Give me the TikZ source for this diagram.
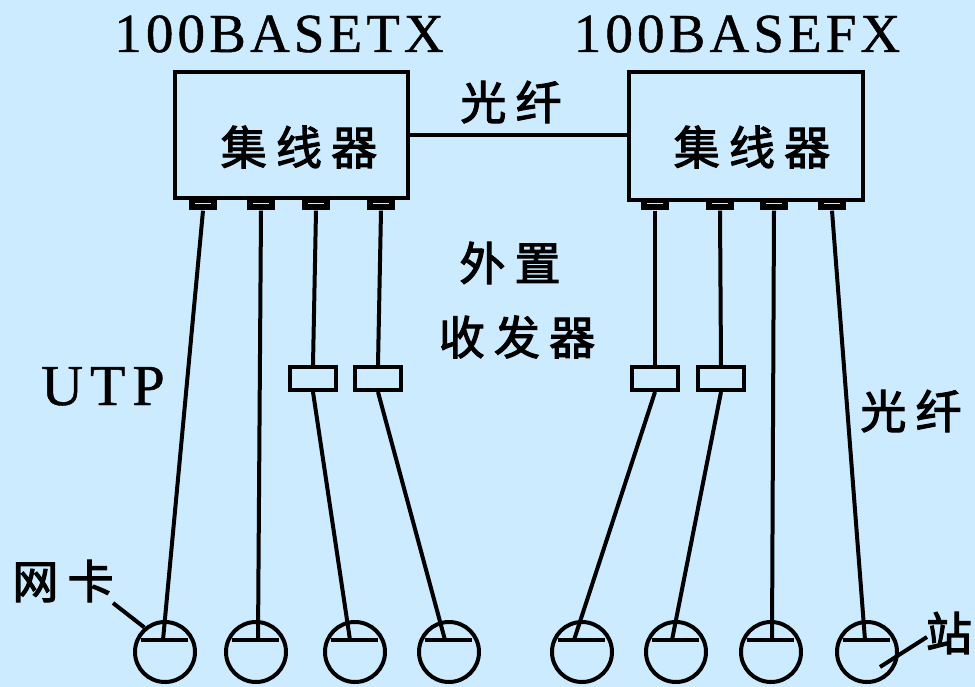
\documentclass[tikz,border=0pt]{standalone}
\usepackage{fontspec}
\setmainfont{Liberation Serif}
\newfontfamily\cjk{Noto Sans CJK SC}[LetterSpace=20,FakeBold=2.5]
\definecolor{bg}{RGB}{204,235,255}
\begin{document}
\begin{tikzpicture}[x=1pt,y=-1pt,
  hub/.style={draw, line width=4pt, inner sep=0pt},
  xcvr/.style={draw, line width=4pt, inner sep=0pt, minimum width=46pt, minimum height=23pt},
  stub/.style={fill=black, inner sep=0pt, minimum width=28pt, minimum height=11pt},
  station/.style={circle, draw, line width=4pt, minimum size=60pt, inner sep=0pt},
  wire/.style={line width=4pt},
  lat/.style={inner sep=0pt, font=\fontsize{55}{57}\selectfont\addfontfeature{LetterSpace=7.5,FakeBold=0.8}},
  zh/.style={inner sep=0pt, font=\cjk\fontsize{46}{48}\selectfont}]
\fill[bg] (0,0) rectangle (975,687);
\useasboundingbox (0,0) rectangle (975,687);
% hubs
\node[hub, minimum width=233pt, minimum height=126pt] (hubL) at (291.5,135) {};
\node[hub, minimum width=234pt, minimum height=128pt] (hubR) at (746,136) {};
% labels
\node[lat, anchor=base] (tTX) at (279,52) {100BASETX};
\node[lat, anchor=base] (tFX) at (737,52) {100BASEFX};
\node[zh] (hL) at (299,147) {集线器};
\node[zh] (hR) at (752,147) {集线器};
\node[zh] (gx1) at (511,102) {光纤};
\node[zh] (wz) at (510,263) {外置};
\node[zh] (sf) at (517,337) {收发器};
\node[zh] (gx2) at (911,411) {光纤};
\node[zh] (wk) at (63,581) {网卡};
\node[zh] (zh8) at (949,633) {站};
\node[inner sep=0pt, anchor=base, font=\fontsize{58}{60}\selectfont\addfontfeature{LetterSpace=12,FakeBold=0.8}] (utp) at (103,405) {UTP};
% stubs
\foreach \n/\x in {a1/203,a2/261,a3/316,a4/381,b1/655,b2/720,b3/774,b4/832}{
  \node[stub] (\n) at (\x,205) {};
  \draw[bg, line width=1.5pt] ([shift={(-8,-1.5)}]\n.center) -- ([shift={(8,-1.5)}]\n.center);
}
% transceivers
\node[xcvr] (ta3) at (313,378.5) {};
\node[xcvr] (ta4) at (378,378.5) {};
\node[xcvr] (tb1) at (655,378.5) {};
\node[xcvr] (tb2) at (721,378.5) {};
% stations
\foreach \n/\x in {s1/165,s2/256,s3/355,s4/449,s5/582,s6/676,s7/771,s8/867}{
  \node[station] (\n) at (\x,652) {};
  \draw[wire] ([shift={(-24,-12)}]\n.center) -- ([shift={(23,-12)}]\n.center);
}
% fibre between hubs
\draw[wire] (hubL.east) -- (hubL.east -| hubR.west);
% wires left
\draw[wire] (a1.south) -- ([shift={(-2,-12)}]s1.center);
\draw[wire] (a2.south) -- ([shift={(2,-12)}]s2.center);
\draw[wire] (a3.south) -- (ta3.north);
\draw[wire] (ta3.south) -- ([shift={(-5,-12)}]s3.center);
\draw[wire] (a4.south) -- (ta4.north);
\draw[wire] (ta4.south) -- ([shift={(-4,-12)}]s4.center);
% wires right
\draw[wire] (b1.south) -- (tb1.north);
\draw[wire] (tb1.south) -- ([shift={(-8,-12)}]s5.center);
\draw[wire] (b2.south) -- (tb2.north);
\draw[wire] (tb2.south) -- ([shift={(-4,-12)}]s6.center);
\draw[wire] (b3.south) -- ([shift={(1,-12)}]s7.center);
\draw[wire] (b4.south) -- ([shift={(-2,-12)}]s8.center);
% leaders
\coordinate (wkEnd) at (113,603);
\draw[wire] (wkEnd) -- (s1.130);
\coordinate (zIn) at (880,667);
\coordinate (zOut) at (927,637);
\draw[wire] (zIn) -- (zOut);
\end{tikzpicture}
\end{document}
